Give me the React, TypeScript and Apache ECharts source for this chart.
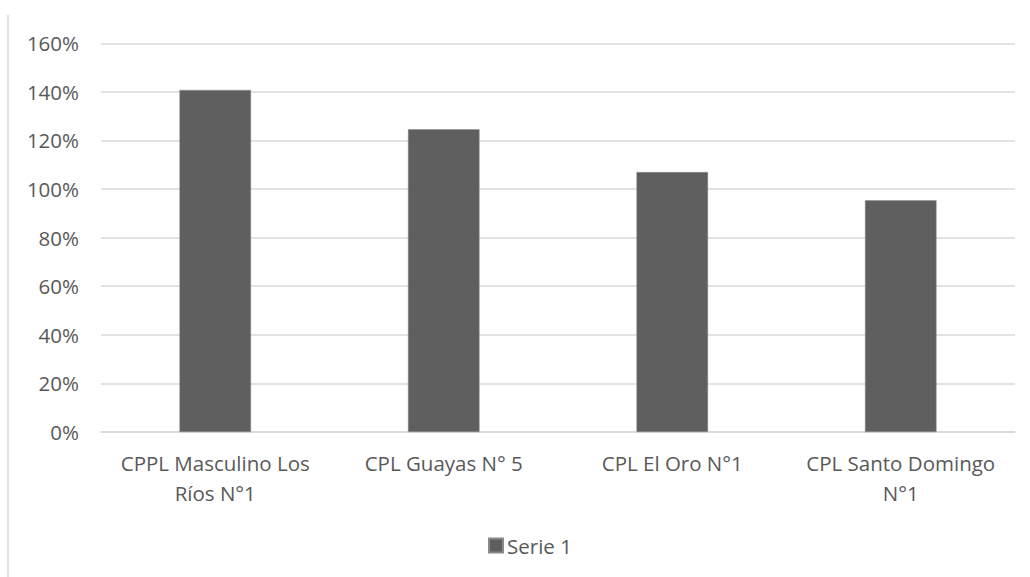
import React, { useEffect, useRef } from "react";
import * as echarts from "echarts";

const categories = ["CPPL Masculino Los Ríos N°1", "CPL Guayas N° 5", "CPL El Oro N°1", "CPL Santo Domingo N°1"];
const tickLabels = ["CPPL Masculino Los\nRíos N°1", "CPL Guayas N° 5", "CPL El Oro N°1", "CPL Santo Domingo\nN°1"];
const serie1 = [140.8, 124.6, 107.0, 95.4];
const seriesName = "Serie 1";

const FONT = "Open Sans";
const TEXT = "#595959";
const FS = 20.5;

export default function App() {
  const ref = useRef<HTMLDivElement>(null);
  useEffect(() => {
    if (!ref.current) return;
    const chart = echarts.init(ref.current, null, { renderer: "svg" });
    chart.setOption({
      animation: false,
      backgroundColor: "#ffffff",
      textStyle: { fontFamily: FONT },
      grid: { left: 101, right: 15, top: 43.3, bottom: 145, containLabel: false },
      legend: {
        data: [seriesName],
        left: 488,
        top: 535,
        padding: 0,
        itemWidth: 14,
        itemHeight: 14,
        itemGap: 5,
        icon: "rect",
        textStyle: { color: TEXT, fontSize: FS, fontFamily: FONT, padding: [0, 0, 0, -1] },
      },
      xAxis: {
        type: "category",
        data: categories,
        axisLine: { show: true, lineStyle: { color: "#d9d9d9", width: 1.5 } },
        axisTick: { show: false },
        axisLabel: {
          color: TEXT,
          fontSize: FS,
          fontFamily: FONT,
          margin: 16,
          lineHeight: 30,
          interval: 0,
          formatter: (_v: string, i: number) => tickLabels[i],
        },
      },
      yAxis: {
        type: "value",
        min: 0,
        max: 160,
        interval: 20,
        axisLine: { show: false },
        axisTick: { show: false },
        splitLine: { lineStyle: { color: "#d9d9d9", width: 1.5 } },
        axisLabel: {
          color: TEXT,
          fontSize: FS,
          fontFamily: FONT,
          margin: 22,
          formatter: (v: number) => v + "%",
        },
      },
      series: [
        {
          name: seriesName,
          type: "bar",
          data: serie1,
          barWidth: "31.3%",
          itemStyle: { color: "#5f5f5f", borderColor: "#8a8a8a", borderWidth: 0.5 },
        },
      ],
      graphic: [
        {
          type: "line",
          shape: { x1: 8, y1: 15, x2: 8, y2: 577 },
          style: { stroke: "#d9d9d9", lineWidth: 1.5 },
        },
      ],
    });
    return () => chart.dispose();
  }, []);
  return (
    <div
      ref={ref}
      style={{ position: "fixed", left: 0, top: 0, width: 1030, height: 577 }}
    />
  );
}
